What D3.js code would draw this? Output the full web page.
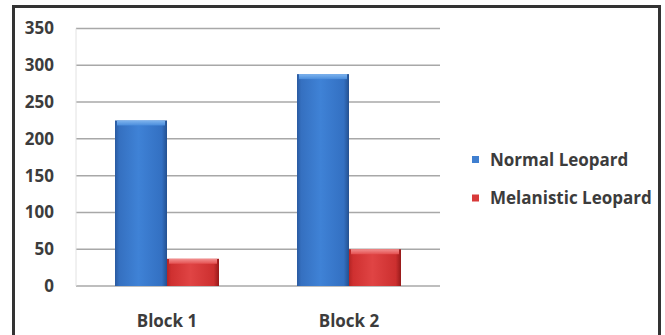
<!DOCTYPE html>
<html>
<head>
<meta charset="utf-8">
<script src="https://cdn.jsdelivr.net/npm/d3@7"></script>
<style>
  body { margin: 0; background: #fff; }
  text { font-family: "Open Sans", sans-serif; font-weight: 700; fill: #3c3c3c; }
</style>
</head>
<body>
<svg></svg>
<script>
// data
var categories = ["Block 1", "Block 2"]
var seriesNames = ["Normal Leopard", "Melanistic Leopard"]
var normalValues = [225, 288]
var melanisticValues = [37, 50]
var yTicks = [0, 50, 100, 150, 200, 250, 300, 350]

margin = ({top: 28.5, right: 225, bottom: 49, left: 76})
var width = 665, height = 335

var svg = d3.select("svg")
            .attr("width", width)
            .attr("height", height)

var rows = categories.map((c, i) => ({cat: c, values: [normalValues[i], melanisticValues[i]]}))

var x = d3.scaleBand()
    .domain(categories)
    .range([margin.left, width - margin.right])

var x1 = d3.scaleBand()
    .domain(seriesNames)
    .range([0, x.bandwidth()])
    .paddingOuter(0.75)

var y = d3.scaleLinear()
    .domain([0, 350])
    .range([height - margin.bottom, margin.top])

// gradients for the bevelled bars
var defs = svg.append("defs")
function grad(id, stops, vertical) {
  var g = defs.append("linearGradient").attr("id", id)
  if (vertical) g.attr("x1", 0).attr("y1", 0).attr("x2", 0).attr("y2", 1)
  stops.forEach(s => g.append("stop").attr("offset", s[0]).attr("stop-color", s[1]))
}
grad("blueBody", [[0, "#2a5aa0"], [0.08, "#3570c0"], [0.45, "#3f82d6"], [0.9, "#3370c2"], [1, "#24508f"]])
grad("redBody", [[0, "#b42424"], [0.08, "#cf3030"], [0.45, "#e04444"], [0.9, "#cc2f2f"], [1, "#961a1a"]])
grad("blueTop", [[0, "#7fb4ee"], [1, "#4a8ddc"]], true)
grad("redTop", [[0, "#f29090"], [1, "#e45050"]], true)

var colors = {"Normal Leopard": "blue", "Melanistic Leopard": "red"}
var solid = {"Normal Leopard": "#3f7fd0", "Melanistic Leopard": "#d83a3a"}

// grid
svg.append("g")
  .selectAll("line")
  .data(yTicks)
  .join("line")
    .attr("x1", margin.left)
    .attr("x2", width - margin.right)
    .attr("y1", d => y(d))
    .attr("y2", d => y(d))
    .attr("stroke", "#a8a8a8")
    .attr("stroke-width", 1.5)

svg.append("line")
    .attr("x1", margin.left).attr("x2", margin.left)
    .attr("y1", y(350)).attr("y2", y(0))
    .attr("stroke", "#e2e2e2")

// y labels
var yAxis = g => g
    .attr("transform", `translate(${margin.left - 22},0)`)
    .call(d3.axisLeft(y).tickValues(yTicks).tickSize(0).tickPadding(0))
    .call(g => g.select(".domain").remove())
    .call(g => g.selectAll("text").attr("font-size", 17).attr("fill", null).attr("font-family", null))
svg.append("g").call(yAxis)

// x labels
var xAxis = g => g
    .attr("transform", `translate(0,${y(0)})`)
    .call(d3.axisBottom(x).tickSize(0).tickPadding(29))
    .call(g => g.select(".domain").remove())
    .call(g => g.selectAll("text").attr("font-size", 17).attr("fill", null).attr("font-family", null))
svg.append("g").call(xAxis)

// bars
var groups = svg.append("g")
  .selectAll("g")
  .data(rows)
  .join("g")
    .attr("transform", d => `translate(${x(d.cat)},0)`)

var bars = groups.selectAll("g")
  .data(d => d.values.map((v, i) => ({key: seriesNames[i], value: v})))
  .join("g")

bars.append("rect")
    .attr("x", d => x1(d.key))
    .attr("y", d => y(d.value))
    .attr("width", x1.bandwidth())
    .attr("height", d => y(0) - y(d.value))
    .attr("fill", d => `url(#${colors[d.key]}Body)`)

bars.append("rect")
    .attr("x", d => x1(d.key) + 2)
    .attr("y", d => y(d.value))
    .attr("width", x1.bandwidth() - 4)
    .attr("height", 5)
    .attr("fill", d => `url(#${colors[d.key]}Top)`)

// legend
var legend = svg.append("g")
  .selectAll("g")
  .data(seriesNames)
  .join("g")
    .attr("transform", (d, i) => `translate(472,${156 + i * 38.5})`)

legend.append("rect")
    .attr("width", 7).attr("height", 7)
    .attr("fill", d => solid[d])

legend.append("text")
    .attr("x", 18)
    .attr("y", 9.5)
    .attr("font-size", 17)
    .text(d => d)

// outer frame
svg.append("rect")
    .attr("x", 13.5).attr("y", 6.5)
    .attr("width", 646).attr("height", 340)
    .attr("fill", "none")
    .attr("stroke", "#333")
    .attr("stroke-width", 3)
</script>
</body>
</html>
